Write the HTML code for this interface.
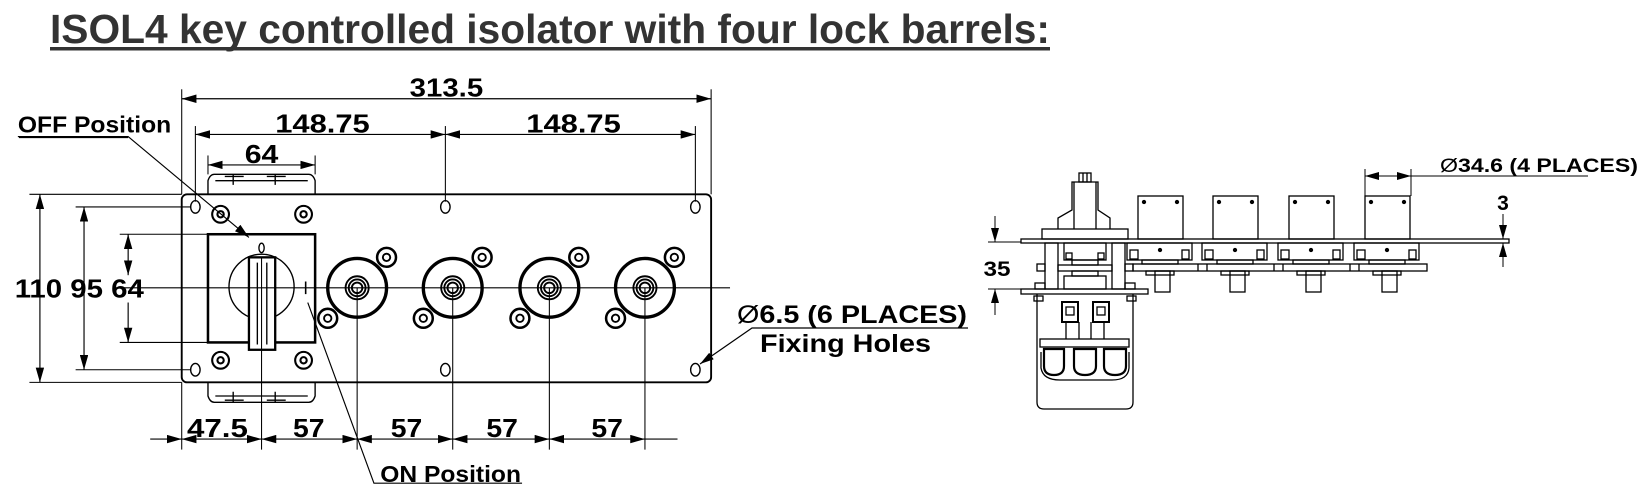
<!DOCTYPE html>
<html><head><meta charset="utf-8"><style>
html,body{margin:0;padding:0;background:#fff;}
svg{display:block;}
text{font-family:"Liberation Sans",Arial,sans-serif;font-weight:bold;fill:#000;}
</style></head><body>
<svg width="1647" height="489" viewBox="0 0 1647 489" xmlns="http://www.w3.org/2000/svg">
<defs>
<marker id="a" viewBox="0 0 14 8" refX="14" refY="4" markerWidth="14" markerHeight="8" markerUnits="userSpaceOnUse" orient="auto-start-reverse"><path d="M0,0 L14,4 L0,8 z" fill="#000"/></marker>
</defs>
<text x="50" y="43" font-size="41" textLength="1000" lengthAdjust="spacingAndGlyphs" style="fill:#333">ISOL4 key controlled isolator with four lock barrels:</text>
<rect x="50" y="47" width="1000" height="3.5" fill="#333"/>

<g transform="scale(1.0504)" stroke="#000" fill="none" stroke-width="1.3">
<rect x="173" y="185" width="504" height="179" rx="5" stroke-width="1.8"/>
<path d="M198,185 L198,172 Q200,166 204,166 L294,166 Q298,166 300,172 L300,185"/>
<path d="M205,172 L293,172 M222,166 L222,176 M214,168 L232,168 M262,166 L262,176 M254,168 L272,168"/>
<path d="M198,364 L198,377 Q200,383 204,383 L294,383 Q298,383 300,377 L300,364"/>
<path d="M205,377 L293,377 M222,373 L222,383 M214,381 L232,381 M262,373 L262,383 M254,381 L272,381"/>
<g stroke-width="1.3">
<ellipse cx="186" cy="197" rx="4.5" ry="6"/><ellipse cx="424" cy="197" rx="4.5" ry="6"/><ellipse cx="662" cy="197" rx="4.5" ry="6"/>
<ellipse cx="186" cy="352" rx="4.5" ry="6"/><ellipse cx="424" cy="352" rx="4.5" ry="6"/><ellipse cx="662" cy="352" rx="4.5" ry="6"/>
</g>
<g stroke-width="2">
<circle cx="210" cy="204" r="8"/><circle cx="210" cy="204" r="3"/>
<circle cx="289" cy="204" r="8"/><circle cx="289" cy="204" r="3"/>
<circle cx="210" cy="343" r="8"/><circle cx="210" cy="343" r="3"/>
<circle cx="289" cy="343" r="8"/><circle cx="289" cy="343" r="3"/>
</g>
<rect x="198" y="223" width="102" height="103" stroke-width="2.4"/>
<circle cx="249" cy="273" r="31"/>
<rect x="237" y="245" width="25" height="88" fill="#fff" stroke-width="2.2"/>
<path d="M245,250 L245,328 M254,250 L254,328"/>
<ellipse cx="249" cy="236" rx="2.5" ry="4.5"/>
<line x1="291" y1="268" x2="291" y2="280" stroke-width="1.5"/>
<g stroke-width="1.8">
<g id="b1">
<circle cx="340" cy="274" r="28" stroke-width="3.2"/>
<circle cx="340" cy="274" r="11"/><circle cx="340" cy="274" r="8"/><circle cx="340" cy="274" r="5"/>
<circle cx="368" cy="245" r="9" stroke-width="2.4"/><circle cx="368" cy="245" r="3.5"/>
<circle cx="312" cy="303" r="9" stroke-width="2.4"/><circle cx="312" cy="303" r="3.5"/>
</g>
<use href="#b1" x="91"/><use href="#b1" x="183"/><use href="#b1" x="274"/>
</g>
<line x1="110" y1="274" x2="695" y2="274" stroke-width="1"/>
<g stroke-width="1">
<line x1="249" y1="245" x2="249" y2="428"/>
<line x1="340" y1="274" x2="340" y2="428"/><line x1="431" y1="274" x2="431" y2="428"/>
<line x1="523" y1="274" x2="523" y2="428"/><line x1="614" y1="274" x2="614" y2="428"/>
<line x1="173" y1="364" x2="173" y2="428"/>
<line x1="173" y1="85" x2="173" y2="185"/><line x1="677" y1="85" x2="677" y2="185"/>
<line x1="186" y1="120" x2="186" y2="192"/><line x1="424" y1="120" x2="424" y2="192"/><line x1="662" y1="120" x2="662" y2="192"/>
<line x1="198" y1="148" x2="198" y2="166"/><line x1="300" y1="148" x2="300" y2="166"/>
<line x1="28" y1="185" x2="173" y2="185"/><line x1="28" y1="364" x2="173" y2="364"/>
<line x1="72" y1="197" x2="182" y2="197"/><line x1="72" y1="352" x2="182" y2="352"/>
<line x1="114" y1="223" x2="198" y2="223"/><line x1="114" y1="326" x2="198" y2="326"/>
</g>
<g stroke-width="1.1" marker-start="url(#a)" marker-end="url(#a)">
<line x1="173" y1="94" x2="677" y2="94"/>
<line x1="186" y1="128" x2="424" y2="128"/>
<line x1="424" y1="128" x2="662" y2="128"/>
<line x1="198" y1="157" x2="300" y2="157"/>
<line x1="38" y1="185" x2="38" y2="364"/>
<line x1="80" y1="197" x2="80" y2="352"/>
<line x1="122" y1="223" x2="122" y2="262"/>
<line x1="173" y1="418" x2="249" y2="418"/>
<line x1="249" y1="418" x2="340" y2="418"/>
<line x1="340" y1="418" x2="431" y2="418"/>
<line x1="431" y1="418" x2="523" y2="418"/>
<line x1="523" y1="418" x2="614" y2="418"/>
</g>
<line x1="122" y1="288" x2="122" y2="326" stroke-width="1.1" marker-end="url(#a)"/>
<line x1="143" y1="418" x2="173" y2="418" stroke-width="1.1" marker-end="url(#a)"/>
<line x1="614" y1="418" x2="645" y2="418" stroke-width="1.1"/>
<polyline points="17,130 122,130 237,226" stroke-width="1.1" marker-end="url(#a)"/>
<polyline points="497,460 356,460 293,288" stroke-width="1.1"/>
</g>

<g transform="scale(1.0504)">
<rect x="18" y="130" width="104" height="1.5" fill="#000"/>
<text x="17" y="126" font-size="22" textLength="146" lengthAdjust="spacingAndGlyphs">OFF Position</text>
<text x="425" y="92" font-size="25" text-anchor="middle" textLength="70" lengthAdjust="spacingAndGlyphs">313.5</text>
<text x="307" y="126" font-size="25" text-anchor="middle" textLength="90" lengthAdjust="spacingAndGlyphs">148.75</text>
<text x="546" y="126" font-size="25" text-anchor="middle" textLength="90" lengthAdjust="spacingAndGlyphs">148.75</text>
<text x="249" y="155" font-size="25" text-anchor="middle" textLength="32" lengthAdjust="spacingAndGlyphs">64</text>
<text x="14" y="283" font-size="25" textLength="123" lengthAdjust="spacingAndGlyphs">110 95 64</text>
<text x="207" y="416" font-size="25" text-anchor="middle" textLength="58" lengthAdjust="spacingAndGlyphs">47.5</text>
<text x="294" y="416" font-size="25" text-anchor="middle" textLength="30" lengthAdjust="spacingAndGlyphs">57</text>
<text x="387" y="416" font-size="25" text-anchor="middle" textLength="30" lengthAdjust="spacingAndGlyphs">57</text>
<text x="478" y="416" font-size="25" text-anchor="middle" textLength="30" lengthAdjust="spacingAndGlyphs">57</text>
<text x="578" y="416" font-size="25" text-anchor="middle" textLength="30" lengthAdjust="spacingAndGlyphs">57</text>
<text x="362" y="459" font-size="22" textLength="134" lengthAdjust="spacingAndGlyphs">ON Position</text>
</g>

<text x="737" y="323" font-size="25" textLength="230" lengthAdjust="spacingAndGlyphs"><tspan font-weight="normal">Ø</tspan>6.5 (6 PLACES)</text>
<text x="760" y="352" font-size="25" textLength="171" lengthAdjust="spacingAndGlyphs">Fixing Holes</text>
<polyline points="968,328 752,328 700,364" fill="none" stroke="#000" stroke-width="1.2" marker-end="url(#a)"/>

<g stroke="#000" fill="none" stroke-width="1.3">
<rect x="1021" y="239" width="488" height="4"/>
<g id="c1">
<rect x="1138" y="196" width="45" height="43"/>
<circle cx="1144" cy="202" r="1.5" fill="#000"/><circle cx="1177" cy="202" r="1.5" fill="#000"/>
<rect x="1127" y="243" width="65" height="17"/>
<rect x="1130" y="250" width="8" height="9"/><rect x="1182" y="250" width="7" height="9"/>
<circle cx="1160" cy="250" r="1.5" fill="#000"/>
<rect x="1142" y="260" width="36" height="4"/>
<rect x="1155" y="271" width="15" height="21"/>
<rect x="1146" y="271" width="28" height="4"/>
</g>
<use href="#c1" x="75"/><use href="#c1" x="151"/><use href="#c1" x="227"/>
<rect x="1133" y="264" width="294" height="7"/>
<path d="M1198,264 V271 M1207,264 V271 M1274,264 V271 M1283,264 V271 M1350,264 V271 M1359,264 V271"/>
<rect x="1042" y="229" width="86" height="10"/>
<path d="M1058,229 V218 L1072,210 V182 H1098 V210 L1110,218 V229"/>
<path d="M1074,182 V229 M1096,182 V229"/>
<rect x="1079" y="173" width="12" height="9"/>
<path d="M1083,173 V182 M1087,173 V182"/>
<rect x="1045" y="243" width="13" height="46"/><rect x="1112" y="243" width="13" height="46"/>
<rect x="1064" y="243" width="42" height="17"/><rect x="1066" y="253" width="6" height="6"/><rect x="1098" y="253" width="6" height="6"/>
<rect x="1072" y="260" width="26" height="5"/>
<rect x="1058" y="265" width="54" height="6"/>
<rect x="1037" y="264" width="8" height="7"/><rect x="1125" y="264" width="8" height="7"/>
<rect x="1072" y="271" width="26" height="5"/>
<rect x="1064" y="276" width="42" height="13"/>
<rect x="1035" y="283" width="10" height="6"/><rect x="1125" y="283" width="10" height="6"/>
<rect x="1021" y="289" width="127" height="5"/>
<path d="M1037,294 V402 Q1037,409 1044,409 H1126 Q1133,409 1133,402 V294"/>
<rect x="1034" y="296" width="9" height="5"/><rect x="1127" y="296" width="9" height="5"/>
<rect x="1062" y="302" width="16" height="20" stroke-width="2"/><rect x="1093" y="302" width="16" height="20" stroke-width="2"/>
<rect x="1066" y="307" width="8" height="8"/><rect x="1097" y="307" width="8" height="8"/>
<path d="M1066,322 V339 M1079,322 V339 M1091,322 V339 M1104,322 V339"/>
<rect x="1040" y="339" width="89" height="8"/>
<path d="M1044,349 V366 Q1044,375 1054,375 Q1064,375 1064,366 V349 Z M1074,349 V366 Q1074,375 1085,375 Q1096,375 1096,366 V349 Z M1104,349 V366 Q1104,375 1115,375 Q1126,375 1126,366 V349 Z" stroke-width="2.2"/>
<path d="M1041,352 V368 Q1043,380 1060,380 H1112 Q1128,380 1129,368 V352"/>
<g stroke-width="1">
<line x1="988" y1="242" x2="1021" y2="242"/>
<line x1="988" y1="289" x2="1021" y2="289"/>
<line x1="995" y1="216" x2="995" y2="242" marker-end="url(#a)"/>
<line x1="995" y1="315" x2="995" y2="289" marker-end="url(#a)"/>
<line x1="1503" y1="214" x2="1503" y2="239" marker-end="url(#a)"/>
<line x1="1503" y1="267" x2="1503" y2="243" marker-end="url(#a)"/>
<line x1="1365" y1="169" x2="1365" y2="196"/>
<line x1="1411" y1="169" x2="1411" y2="196"/>
<line x1="1365" y1="176" x2="1411" y2="176" marker-start="url(#a)" marker-end="url(#a)"/>
<line x1="1411" y1="176" x2="1588" y2="176"/>
</g>
</g>
<text x="997" y="276" font-size="21" text-anchor="middle" textLength="27" lengthAdjust="spacingAndGlyphs">35</text>
<text x="1503" y="210" font-size="21" text-anchor="middle">3</text>
<text x="1440" y="172" font-size="19" textLength="198" lengthAdjust="spacingAndGlyphs"><tspan font-weight="normal">Ø</tspan>34.6 (4 PLACES)</text>
</svg>
</body></html>
